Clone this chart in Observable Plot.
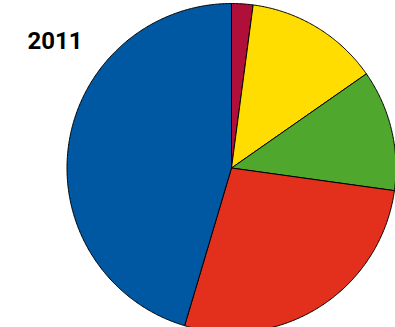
<!DOCTYPE html>
<html>
<head>
<meta charset="utf-8">
<script src="https://cdn.jsdelivr.net/npm/d3@7"></script>
<script src="https://cdn.jsdelivr.net/npm/@observablehq/plot@0.6"></script>
<style>
  html, body { margin: 0; padding: 0; background: #fff; overflow: hidden; }
  #chart svg { display: block; }
</style>
</head>
<body>
<div id="chart"></div>
<script>
// Data, clockwise from 12 o'clock
const title = "2011";
const categories = ["A", "B", "C", "D", "E"];
const values = [2.1, 13.2, 11.9, 27.4, 45.4];
const colors = ["#b00f3a", "#ffdd00", "#4fa72d", "#e3301c", "#0058a2"];

// Build slice polygons (unit circle, angle measured clockwise from top)
const pie = d3.pie().sort(null).value(d => d.value)(
  categories.map((name, i) => ({name, value: values[i]}))
);
const points = [];
for (const s of pie) {
  const name = s.data.name;
  points.push({name, x: 0, y: 0});
  const n = Math.max(2, Math.ceil((s.endAngle - s.startAngle) / (Math.PI / 360)));
  for (let k = 0; k <= n; ++k) {
    const a = s.startAngle + (s.endAngle - s.startAngle) * k / n;
    points.push({name, x: Math.sin(a), y: Math.cos(a)});
  }
  points.push({name, x: 0, y: 0});
}

// layout: center at (231, 167.5) px, radius 164.5 px
const W = 395, H = 327, cx = 231, cy = 167.5, r = 164.5;

const chart = Plot.plot({
  width: W,
  height: H,
  margin: 0,
  style: {fontFamily: "Roboto, sans-serif", background: "#fff"},
  x: {domain: [-cx / r, (W - cx) / r], axis: null},
  y: {domain: [(cy - H) / r, cy / r], axis: null},
  color: {domain: categories, range: colors},
  marks: [
    Plot.line(points, {
      x: "x", y: "y", z: "name", fill: "name",
      stroke: "#000", strokeWidth: 1, strokeLinejoin: "round", curve: "linear"
    }),
    Plot.text([title], {
      frameAnchor: "top-left", text: d => d,
      dx: 27, dy: 31, fontSize: 24, fontWeight: "bold", fill: "#000"
    })
  ]
});
document.getElementById("chart").append(chart);
</script>
</body>
</html>
